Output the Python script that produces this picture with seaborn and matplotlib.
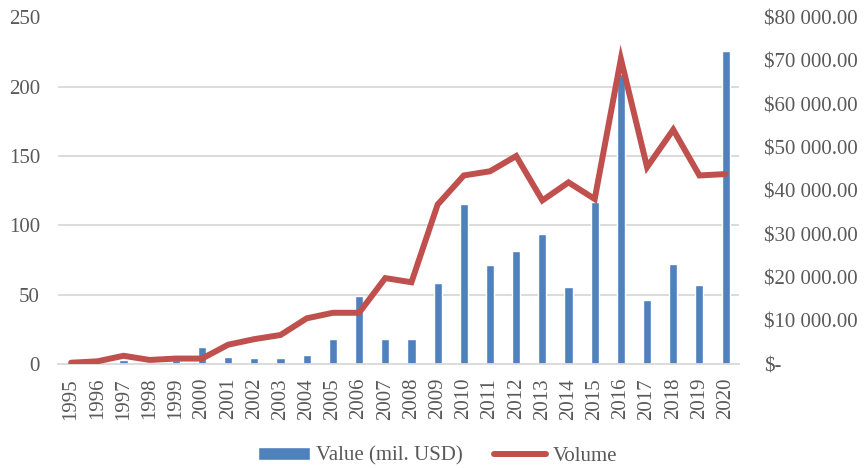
import numpy as np
import pandas as pd
import matplotlib
matplotlib.use("Agg")
import matplotlib.pyplot as plt
import matplotlib.ticker as mticker
from matplotlib.lines import Line2D
from matplotlib.patches import Patch
import seaborn as sns

years = [str(y) for y in range(1995, 2021)]
value_mil_usd = [300, 200, 1000, 300, 900, 4000, 1540, 1300, 1380, 2080,
                 5770, 15700, 5690, 5690, 18700, 36900, 22800, 26000, 30000,
                 17800, 37500, 67000, 14800, 23100, 18300, 72300]
volume = [1, 2, 6, 3, 4, 4, 14, 18, 21, 33, 37, 37, 62, 59, 115, 136, 139,
          150, 118, 131, 119, 220, 142, 169, 136, 137]

BAR_COLOR = "#4F81BD"
LINE_COLOR = "#C0504D"
TEXT_COLOR = "#595959"
GRID_COLOR = "#D9D9D9"
FS = 15

sns.set_style("white")
plt.rcParams["font.family"] = ["Liberation Serif", "DejaVu Serif"]

df = pd.DataFrame({"year": years, "value": value_mil_usd, "volume": volume})

fig, ax = plt.subplots(figsize=(8.66, 4.68), dpi=100)
fig.subplots_adjust(left=0.067, right=0.853, top=0.963, bottom=0.222)

# bars on the lower axis (right-hand $ scale), line on the twin (left scale)
sns.barplot(data=df, x="year", y="value", color=BAR_COLOR, width=0.31,
            saturation=1, ax=ax, zorder=2)
ax2 = ax.twinx()
sns.lineplot(data=df, x="year", y="volume", color=LINE_COLOR, linewidth=4.3,
             ax=ax2, solid_capstyle="round", solid_joinstyle="miter")

ax.set_ylim(0, 80000)
ax.yaxis.tick_right()
ax.yaxis.set_major_locator(mticker.MultipleLocator(10000))
ax.yaxis.set_major_formatter(mticker.FuncFormatter(
    lambda v, _: "$-" if v == 0 else "${:,.2f}".format(v).replace(",", " ")))
ax.yaxis.set_minor_locator(mticker.MultipleLocator(16000))
ax.grid(which="minor", axis="y", color=GRID_COLOR, linewidth=1.3, zorder=0)
ax.grid(which="major", axis="y", visible=False)
ax.set_axisbelow(True)
ax.set_xlim(-0.5, len(years) - 0.5)

ax2.set_ylim(0, 250)
ax2.yaxis.tick_left()
ax2.yaxis.set_major_locator(mticker.MultipleLocator(50))

for a in (ax, ax2):
    a.set_xlabel("")
    a.set_ylabel("")
    for s in a.spines.values():
        s.set_visible(False)
    a.tick_params(axis="both", which="both", length=0, colors=TEXT_COLOR,
                  labelsize=FS)

ax.spines["bottom"].set_visible(True)
ax.spines["bottom"].set_color(GRID_COLOR)
ax.spines["bottom"].set_linewidth(1.3)
ax.tick_params(axis="x", rotation=90, pad=10)
ax.tick_params(axis="y", which="both", right=False, labelright=True,
               left=False, labelleft=False, pad=18)
ax2.tick_params(axis="y", left=False, labelleft=True, right=False,
                labelright=False, pad=13)

handles = [Patch(facecolor=BAR_COLOR, label="Value (mil. USD)"),
           Line2D([0], [0], color=LINE_COLOR, linewidth=4.3,
                  solid_capstyle="round", label="Volume")]
leg = fig.legend(handles=handles, loc="lower center", ncol=2, frameon=False,
                 bbox_to_anchor=(0.505, -0.035), fontsize=FS,
                 handlelength=2.5, handleheight=0.6, columnspacing=1.5,
                 handletextpad=0.3)
for t in leg.get_texts():
    t.set_color(TEXT_COLOR)

fig.savefig("out.png", dpi=100)
